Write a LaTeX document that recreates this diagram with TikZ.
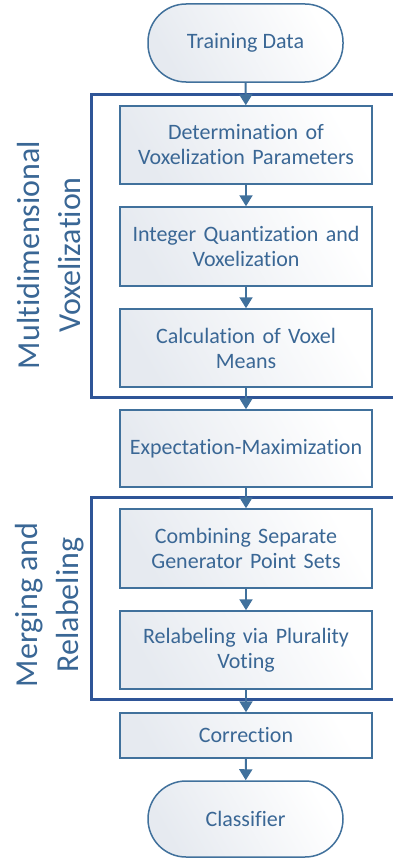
\documentclass[tikz,border=0pt]{standalone}
\usepackage{fontspec}
\setmainfont{Carlito}[Ligatures=NoCommon]
\usetikzlibrary{arrows.meta}
\definecolor{edge}{HTML}{41719C}
\definecolor{frame}{HTML}{2F5597}
\definecolor{txt}{HTML}{3A6795}
\definecolor{shadeA}{HTML}{E6EAF0}
\tikzset{
  x=1pt,y=-1pt,
  boxfill/.style={left color=shadeA, right color=white, shading angle=120},
  procbox/.style={draw=edge, line width=1.5pt, boxfill, minimum width=252pt, text width=244pt, align=center,
    font=\fontsize{22}{25}\selectfont, text=txt, inner sep=0pt},
  termbox/.style={draw=edge, line width=1.5pt, boxfill, rounded corners=38pt, minimum width=195pt,
    font=\fontsize{22}{25}\selectfont, text=txt, inner sep=0pt},
  flow/.style={draw=edge, line width=2pt, -{Triangle[width=13pt,length=11pt]}},
  grpframe/.style={draw=frame, line width=3pt},
  grplabel/.style={rotate=90, align=center, text=txt, font=\fontsize{32}{41}\selectfont, inner sep=0pt}
}
\begin{document}
\begin{tikzpicture}
\clip (0,0) rectangle (393,859);
\useasboundingbox (0,0) rectangle (393,859);
% group frames
\draw[grpframe] (91,94) rectangle (430,397);
\draw[grpframe] (91,497) rectangle (430,699);
% labels
\node[grplabel] (lab1) at (49,255) {Multidimensional\\Voxelization};
\node[grplabel] (lab2) at (50,605) {Merging and\\Relabeling};
% nodes
\node[termbox, minimum height=78pt] (td) at (245.5,43) {Training Data};
\node[procbox, minimum height=78pt] (b1) at (246,145) {Determination of\\Voxelization Parameters};
\node[procbox, minimum height=79pt] (b2) at (246,246.5) {Integer Quantization and\\Voxelization};
\node[procbox, minimum height=78pt] (b3) at (246,348) {Calculation of Voxel\\Means};
\node[procbox, minimum height=77pt] (em) at (246,448.5) {Expectation-Maximization};
\node[procbox, minimum height=79pt] (b4) at (246,548.5) {Combining Separate\\Generator Point Sets};
\node[procbox, minimum height=78pt] (b5) at (246,650) {Relabeling via Plurality\\Voting};
\node[procbox, minimum height=45pt] (cor) at (246,735.5) {Correction};
\node[termbox, minimum height=76pt] (cls) at (245.5,819) {Classifier};
% arrows
\draw[flow] (td) -- (b1);
\draw[flow] (b1) -- (b2);
\draw[flow] (b2) -- (b3);
\draw[flow] (b3) -- (em);
\draw[flow] (em) -- (b4);
\draw[flow] (b4) -- (b5);
\draw[flow] (b5) -- (cor);
\draw[flow] (cor) -- (cls);
\end{tikzpicture}
\end{document}
